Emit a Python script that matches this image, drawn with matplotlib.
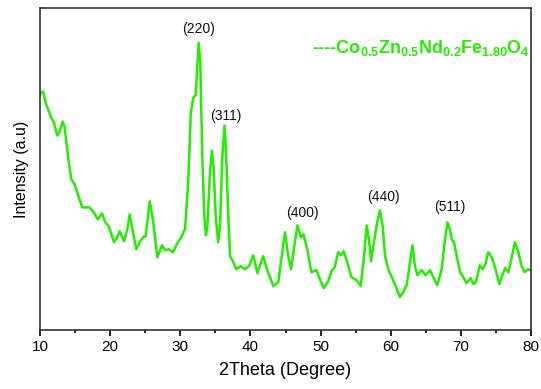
import matplotlib.pyplot as plt

plt.rcParams['font.family'] = ['Liberation Sans', 'DejaVu Sans']
plt.rcParams['mathtext.fontset'] = 'custom'
plt.rcParams['mathtext.rm'] = 'Liberation Sans'
plt.rcParams['mathtext.bf'] = 'Liberation Sans:bold'

# XRD pattern (2theta in degrees, intensity in arbitrary units)
two_theta = [10.0, 10.1, 10.43, 10.9, 11.6, 12.0, 12.47, 12.8, 13.23, 13.5, 14.0,
             14.47, 14.95, 15.4, 16.03, 17.08, 17.56, 18.27, 18.84, 19.3, 19.8,
             20.55, 21.0, 21.36, 21.98, 22.45, 22.79, 23.26, 23.73, 24.2, 24.68,
             25.06, 25.64, 26.1, 26.73, 27.4, 27.86, 28.35, 28.96, 29.58, 30.2,
             30.67, 31.15, 31.5, 31.85, 32.2, 32.4, 32.62, 32.85, 33.14, 33.42,
             33.67, 33.9, 34.2, 34.5, 34.77, 35.05, 35.4, 35.66, 36.0, 36.3,
             36.5, 36.85, 37.1, 37.5, 38.0, 38.6, 39.2, 39.8, 40.4, 41.0,
             41.8, 42.5, 42.8, 43.26, 43.97, 44.46, 44.93, 45.4, 45.8, 46.2,
             46.7, 47.2, 47.55, 48.1, 48.7, 49.4, 49.9, 50.45, 51.1, 51.55,
             52.03, 52.5, 52.9, 53.3, 53.8, 54.4, 55.15, 55.72, 56.2, 56.57,
             56.9, 57.2, 57.6, 58.1, 58.47, 58.86, 59.19, 59.7, 60.1, 60.76,
             61.3, 61.8, 62.3, 62.75, 63.1, 63.46, 63.8, 64.4, 64.98, 65.6,
             66.07, 66.64, 67.27, 67.74, 68.1, 68.45, 68.7, 69.02, 69.5, 69.9,
             70.35, 70.8, 71.4, 71.8, 72.15, 72.7, 73.1, 73.5, 73.9, 74.4,
             74.87, 75.5, 75.97, 76.3, 76.77, 77.25, 77.7, 78.2, 78.66, 79.1,
             79.6, 80.0]
intensity = [236, 238, 239, 226, 213, 208, 195, 199, 209, 204, 174,
             151, 146, 136, 123, 123, 119, 111, 117, 108, 104,
             88, 93, 99, 89, 101, 116, 98, 81, 88, 93,
             94, 129, 111, 73, 85, 80, 81, 78, 87, 94,
             101, 151, 218, 233, 236, 261, 288, 268, 174, 114,
             95, 108, 154, 180, 161, 114, 88, 104, 174, 205,
             184, 114, 74, 69, 61, 64, 61, 64, 75, 57,
             74, 58, 53, 44, 48, 74, 98, 74, 61, 81,
             105, 93, 96, 81, 58, 60, 51, 42, 49, 59,
             63, 78, 75, 79, 68, 53, 50, 44, 74, 105,
             91, 69, 88, 109, 120, 104, 74, 60, 54, 43,
             33, 38, 46, 68, 85, 64, 55, 60, 55, 60,
             53, 45, 61, 91, 108, 101, 91, 88, 71, 58,
             53, 47, 52, 46, 48, 65, 61, 66, 78, 73,
             63, 46, 56, 62, 58, 73, 88, 78, 64, 58,
             61, 60]

peak_labels = ['(220)', '(311)', '(400)', '(440)', '(511)']
label_x = [32.55, 36.5, 47.35, 58.9, 68.45]
label_y = [302, 215, 117, 133, 123]

green = '#22ee00'

fig = plt.figure(figsize=(5.41, 3.89), dpi=100)
ax = fig.add_axes([40 / 541, 1 - 330 / 389, 491 / 541, 322 / 389])

ax.plot(two_theta, intensity, color=green, linewidth=1.8,
        solid_joinstyle='round', solid_capstyle='round')

for lab, lx, ly in zip(peak_labels, label_x, label_y):
    ax.text(lx, ly, lab, ha='center', va='center', fontsize=10, color='#111111')

ax.text(0.997, 0.875,
        r'----Co$_{\mathbf{0.5}}$Zn$_{\mathbf{0.5}}$Nd$_{\mathbf{0.2}}$Fe$_{\mathbf{1.80}}$O$_{\mathbf{4}}$',
        transform=ax.transAxes, ha='right', va='center', color=green,
        fontsize=13, fontweight='bold')

ax.set_xlim(10, 80)
ax.set_ylim(0, 323)
ax.set_xticks(range(10, 81, 10))
ax.set_xticks(range(15, 80, 10), minor=True)
ax.set_yticks([])
ax.tick_params(axis='x', which='major', direction='out', length=4, width=1.2,
               labelsize=11, pad=3)
ax.tick_params(axis='x', which='minor', direction='out', length=2.5, width=1.2)
for s in ax.spines.values():
    s.set_linewidth(1.2)
    s.set_color('#333333')

ax.set_xlabel('2Theta (Degree)', fontsize=13, labelpad=6)
ax.set_ylabel('Intensity (a.u)', fontsize=11.5, labelpad=8)

fig.savefig('out.png', dpi=100)
